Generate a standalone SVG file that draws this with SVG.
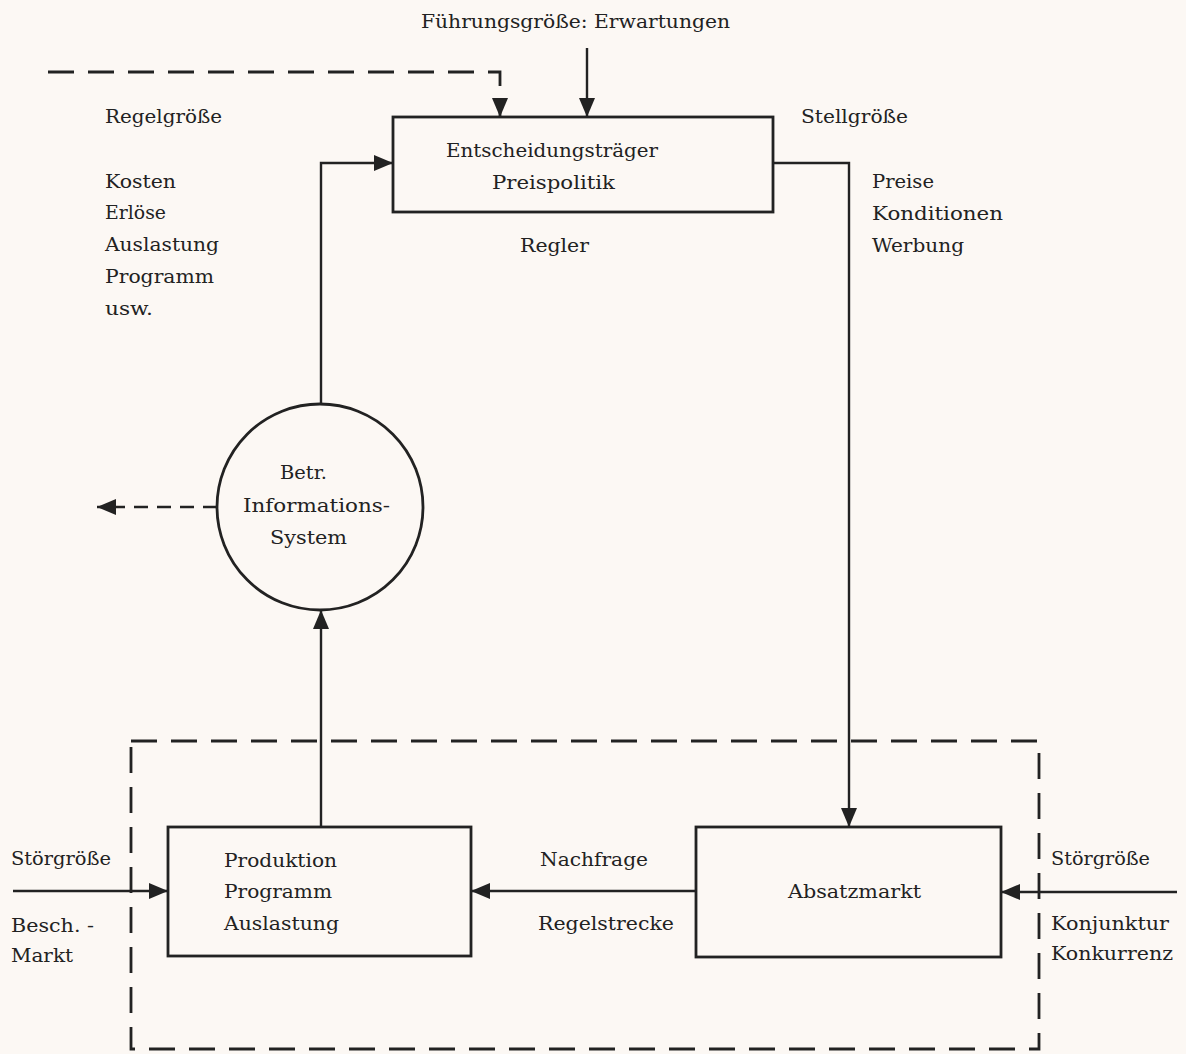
<svg xmlns="http://www.w3.org/2000/svg" width="1186" height="1054" viewBox="0 0 1186 1054">
  <defs>
    <marker id="arrow" markerWidth="19" markerHeight="16" refX="19" refY="8" orient="auto" markerUnits="userSpaceOnUse">
      <path d="M0,0 L19,8 L0,16 z" fill="#222"/>
    </marker>
    <style>
      .t { font-family: "DejaVu Serif", "Liberation Serif", serif; font-size: 19px; fill: #222; }
      .box { fill: none; stroke: #222; stroke-width: 2.8; }
      .ln { fill: none; stroke: #222; stroke-width: 2.4; }
      .dash { fill: none; stroke: #222; stroke-width: 2.8; stroke-dasharray: 26 14; }
      .dashs { fill: none; stroke: #222; stroke-width: 2.6; stroke-dasharray: 14 9; }
    </style>
  </defs>

  <rect width="1186" height="1054" fill="#fcf8f4"/>

  <!-- free labels -->
  <g id="labels">
    <text class="t" x="421" y="28" textLength="309" lengthAdjust="spacingAndGlyphs">Führungsgröße: Erwartungen</text>
    <text class="t" x="105" y="123" textLength="117" lengthAdjust="spacingAndGlyphs">Regelgröße</text>
    <text class="t" x="105" y="188" textLength="71" lengthAdjust="spacingAndGlyphs">Kosten</text>
    <text class="t" x="105" y="219" textLength="61" lengthAdjust="spacingAndGlyphs">Erlöse</text>
    <text class="t" x="105" y="251" textLength="114" lengthAdjust="spacingAndGlyphs">Auslastung</text>
    <text class="t" x="105" y="283" textLength="109" lengthAdjust="spacingAndGlyphs">Programm</text>
    <text class="t" x="105" y="315" textLength="48" lengthAdjust="spacingAndGlyphs">usw.</text>
    <text class="t" x="801" y="123" textLength="107" lengthAdjust="spacingAndGlyphs">Stellgröße</text>
    <text class="t" x="872" y="188" textLength="62" lengthAdjust="spacingAndGlyphs">Preise</text>
    <text class="t" x="872" y="220" textLength="131" lengthAdjust="spacingAndGlyphs">Konditionen</text>
    <text class="t" x="872" y="252" textLength="92" lengthAdjust="spacingAndGlyphs">Werbung</text>
    <text class="t" x="520" y="252" textLength="69" lengthAdjust="spacingAndGlyphs">Regler</text>
    <text class="t" x="11" y="865" textLength="100" lengthAdjust="spacingAndGlyphs">Störgröße</text>
    <text class="t" x="11" y="932" textLength="83" lengthAdjust="spacingAndGlyphs">Besch. -</text>
    <text class="t" x="11" y="962" textLength="62" lengthAdjust="spacingAndGlyphs">Markt</text>
    <text class="t" x="540" y="866" textLength="108" lengthAdjust="spacingAndGlyphs">Nachfrage</text>
    <text class="t" x="538" y="930" textLength="136" lengthAdjust="spacingAndGlyphs">Regelstrecke</text>
    <text class="t" x="1051" y="865" textLength="99" lengthAdjust="spacingAndGlyphs">Störgröße</text>
    <text class="t" x="1051" y="930" textLength="118" lengthAdjust="spacingAndGlyphs">Konjunktur</text>
    <text class="t" x="1051" y="960" textLength="122" lengthAdjust="spacingAndGlyphs">Konkurrenz</text>
  </g>

  <!-- controller -->
  <g id="regler">
    <rect class="box" x="393" y="117" width="380" height="95"/>
    <text class="t" x="446" y="157" textLength="212" lengthAdjust="spacingAndGlyphs">Entscheidungsträger</text>
    <text class="t" x="492" y="189" textLength="123" lengthAdjust="spacingAndGlyphs">Preispolitik</text>
  </g>

  <!-- information system -->
  <g id="informationssystem">
    <circle class="box" cx="320" cy="507" r="103"/>
    <text class="t" x="280" y="479" textLength="47" lengthAdjust="spacingAndGlyphs">Betr.</text>
    <text class="t" x="243" y="512" textLength="147" lengthAdjust="spacingAndGlyphs">Informations-</text>
    <text class="t" x="270" y="544" textLength="77" lengthAdjust="spacingAndGlyphs">System</text>
  </g>

  <!-- controlled system boundary -->
  <g id="regelstrecke">
    <rect class="dash" x="131" y="741" width="908" height="308"/>
  </g>

  <g id="produktion">
    <rect class="box" x="168" y="827" width="303" height="129"/>
    <text class="t" x="224" y="867" textLength="113" lengthAdjust="spacingAndGlyphs">Produktion</text>
    <text class="t" x="224" y="898" textLength="108" lengthAdjust="spacingAndGlyphs">Programm</text>
    <text class="t" x="224" y="930" textLength="115" lengthAdjust="spacingAndGlyphs">Auslastung</text>
  </g>

  <g id="absatzmarkt">
    <rect class="box" x="696" y="827" width="305" height="130"/>
    <text class="t" x="788" y="898" textLength="133" lengthAdjust="spacingAndGlyphs">Absatzmarkt</text>
  </g>

  <!-- connectors -->
  <g id="connectors">
    <path class="dash" d="M48 72 H500 V117" stroke-dasharray="25 13" marker-end="url(#arrow)"/>
    <path class="ln" d="M587 48 V117" marker-end="url(#arrow)"/>
    <path class="ln" d="M321 404 V163 H393" marker-end="url(#arrow)"/>
    <path class="ln" d="M773 163 H849 V827" marker-end="url(#arrow)"/>
    <path class="ln" d="M321 827 V610" marker-end="url(#arrow)"/>
    <path class="ln" d="M696 891 H471" marker-end="url(#arrow)"/>
    <path class="ln" d="M13 891 H168" marker-end="url(#arrow)"/>
    <path class="ln" d="M1177 892 H1001" marker-end="url(#arrow)"/>
    <path class="dashs" d="M217 507 H97" marker-end="url(#arrow)"/>
  </g>
</svg>
